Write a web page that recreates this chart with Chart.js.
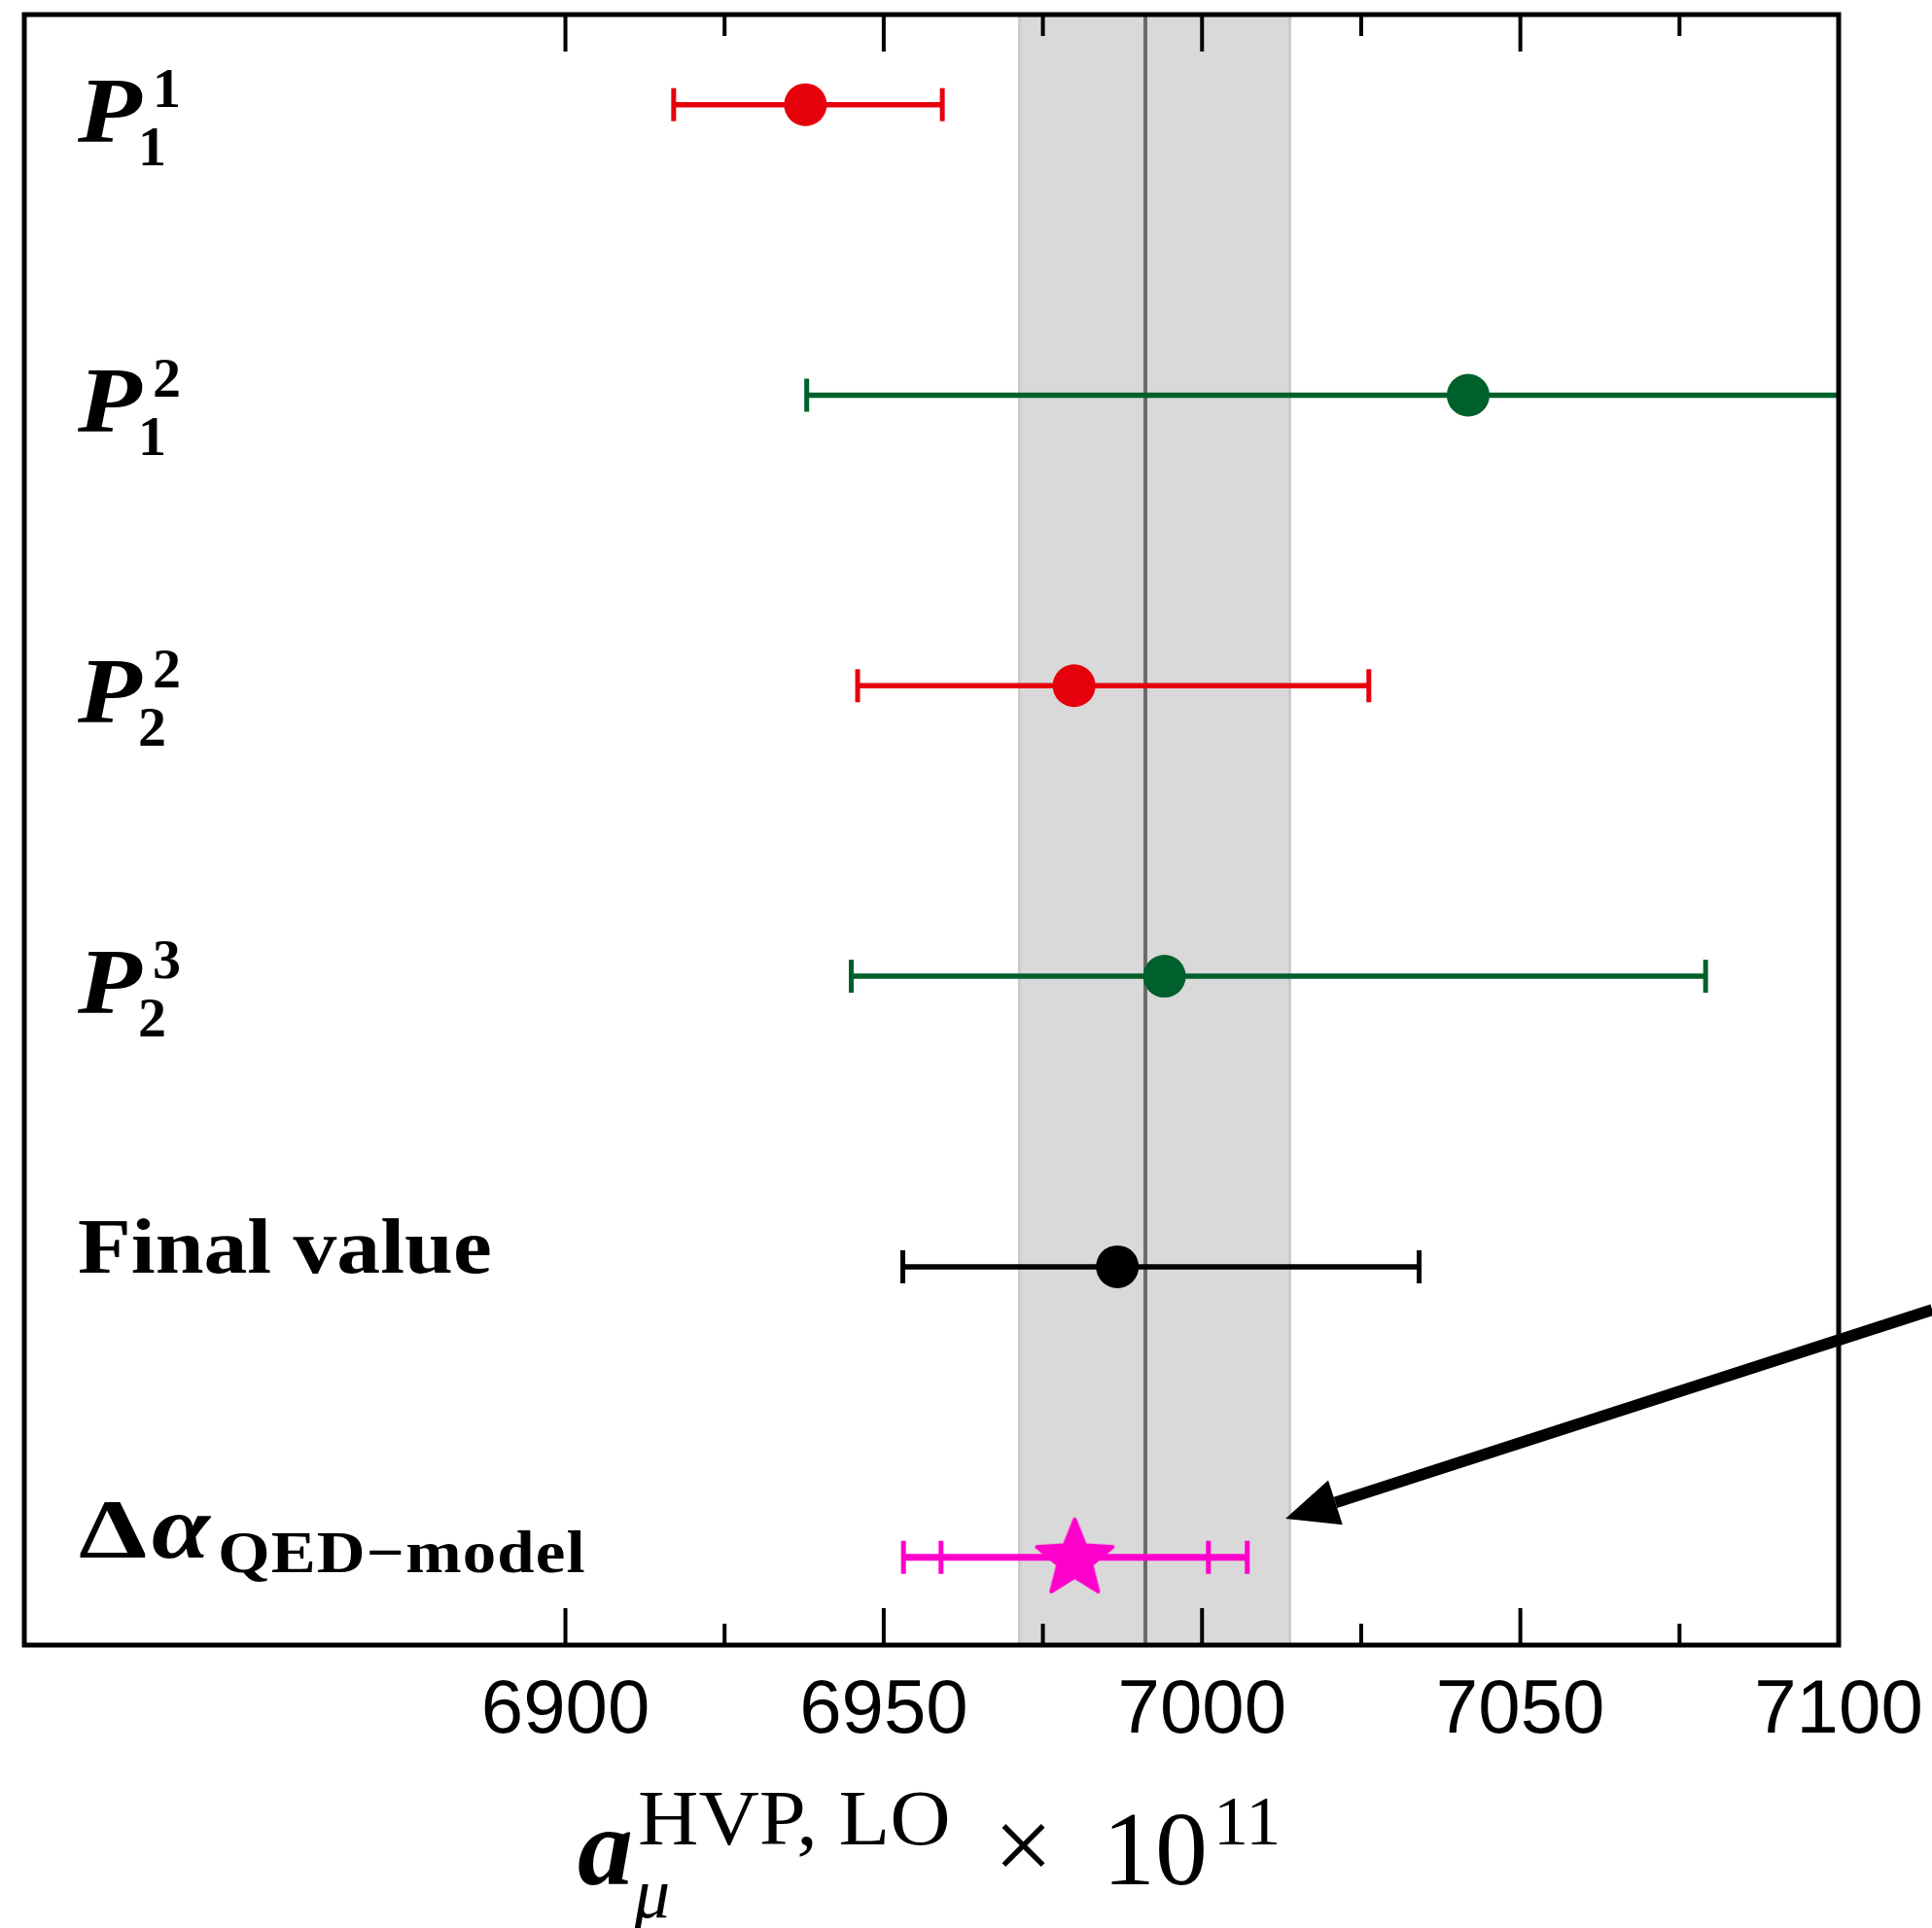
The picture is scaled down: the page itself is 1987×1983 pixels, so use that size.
<!DOCTYPE html>
<html><head><meta charset="utf-8"><title>HVP LO</title>
<script src="https://cdn.jsdelivr.net/npm/chart.js"></script>
<style>html,body{margin:0;padding:0;background:#fff;} #wrap{width:1987px;height:1983px;}</style>
</head><body><div id="wrap"><canvas id="c" width="1987" height="1983"></canvas></div>
<script>
// rows from top to bottom
var rowY     = [6, 5, 4, 3, 2, 1];
var labelBase = ['P', 'P', 'P', 'P', 'Final value', 'Δα'];
var labelSup  = ['1', '2', '2', '3', '', ''];
var labelSub  = ['1', '1', '2', '2', '', 'QED−model'];
var central  = [6937.7, 7041.8, 6979.9, 6994.1, 6986.7, 6980.0];
var errLow   = [6917.0, 6937.9, 6945.9, 6944.9, 6953.0, 6953.1];
var errHigh  = [6959.2, 7146.0, 7026.2, 7079.1, 7034.1, 7007.1];
var innerLow  = [null, null, null, null, null, 6959.0];
var innerHigh = [null, null, null, null, null, 7001.0];
var rowColor = ['#e6000b', '#00602b', '#e6000b', '#00602b', '#000000', '#ff00cc'];
var band = [6971.1, 7014.0];
var bandCenter = 6991.1;
var arrowFrom = [7114.7, 1.852];
var arrowTo   = [7013.1, 1.133];
var xMin = 6815, xMax = 7100, yMin = 0.698, yMax = 6.31;
var firstTick = 6900;

// filled star marker for the last row
var star = document.createElement('canvas');
star.width = 96; star.height = 96;
(function() {
    var g = star.getContext('2d');
    g.fillStyle = '#ff00cc';
    g.beginPath();
    for (var i = 0; i < 10; i++) {
        var r = (i % 2 === 0) ? 41 : 18;
        var a = -Math.PI / 2 + i * Math.PI / 5;
        g.lineTo(48 + r * Math.cos(a), 50 + r * Math.sin(a));
    }
    g.closePath();
    g.lineJoin = 'round';
    g.strokeStyle = '#ff00cc';
    g.lineWidth = 4;
    g.fill(); g.stroke();
})();

function txt(ctx, s, x, y, font, sx, ls) {
    ctx.save();
    ctx.font = font;
    ctx.letterSpacing = (ls || 0) + 'px';
    ctx.translate(x, y);
    ctx.scale(sx || 1, 1);
    ctx.fillText(s, 0, 0);
    ctx.restore();
}

var drawPlugin = {
    id: 'forest',
    beforeDatasetsDraw: function(chart) {
        var ctx = chart.ctx, a = chart.chartArea, xs = chart.scales.x, ys = chart.scales.y;
        ctx.save();
        ctx.beginPath(); ctx.rect(a.left, a.top, a.right - a.left, a.bottom - a.top); ctx.clip();
        var b0 = xs.getPixelForValue(band[0]), b1 = xs.getPixelForValue(band[1]);
        ctx.fillStyle = '#d9d9d9';
        ctx.fillRect(b0, a.top, b1 - b0, a.bottom - a.top);
        ctx.strokeStyle = '#cbcbcb'; ctx.lineWidth = 3;
        ctx.beginPath(); ctx.moveTo(b0 + 1.5, a.top); ctx.lineTo(b0 + 1.5, a.bottom);
        ctx.moveTo(b1 - 1.5, a.top); ctx.lineTo(b1 - 1.5, a.bottom); ctx.stroke();
        var cx = xs.getPixelForValue(bandCenter);
        ctx.strokeStyle = '#6a6a6a'; ctx.lineWidth = 4;
        ctx.beginPath(); ctx.moveTo(cx, a.top); ctx.lineTo(cx, a.bottom); ctx.stroke();

        rowY.forEach(function(y, i) {
            var py = ys.getPixelForValue(y);
            var l = xs.getPixelForValue(errLow[i]), h = xs.getPixelForValue(errHigh[i]);
            ctx.strokeStyle = rowColor[i]; ctx.lineWidth = (i === 5) ? 7 : 5.5;
            ctx.beginPath(); ctx.moveTo(l, py); ctx.lineTo(h, py); ctx.stroke();
            var caps = [l, h];
            if (innerLow[i] !== null) caps.push(xs.getPixelForValue(innerLow[i]), xs.getPixelForValue(innerHigh[i]));
            ctx.lineWidth = 5;
            caps.forEach(function(c) {
                ctx.beginPath(); ctx.moveTo(c, py - 17); ctx.lineTo(c, py + 17); ctx.stroke();
            });
        });
        ctx.restore();
    },
    afterDatasetsDraw: function(chart) {
        var ctx = chart.ctx, a = chart.chartArea, xs = chart.scales.x, ys = chart.scales.y;
        ctx.save();
        // ticks inside, top and bottom
        ctx.strokeStyle = '#000'; ctx.lineWidth = 4;
        xs.ticks.forEach(function(t) {
            if (t.value % 25 !== 0 || t.value < firstTick) return;
            var px = xs.getPixelForValue(t.value);
            var len = (t.value % 50 === 0) ? 38 : 22;
            ctx.beginPath();
            ctx.moveTo(px, a.top); ctx.lineTo(px, a.top + len);
            ctx.moveTo(px, a.bottom); ctx.lineTo(px, a.bottom - len);
            ctx.stroke();
        });
        // frame
        ctx.lineWidth = 5;
        ctx.strokeRect(a.left, a.top, a.right - a.left, a.bottom - a.top);

        // row labels
        ctx.fillStyle = '#000'; ctx.textBaseline = 'alphabetic'; ctx.textAlign = 'left';
        var lx = a.left + 55;
        rowY.forEach(function(y, i) {
            var py = ys.getPixelForValue(y);
            if (labelBase[i] === 'P') {
                txt(ctx, 'P', lx, py + 38, 'italic bold 96px "Liberation Serif"', 1.12);
                txt(ctx, labelSup[i], lx + 77, py + 2, 'bold 58px "Liberation Serif"');
                txt(ctx, labelSub[i], lx + 62, py + 62, 'bold 58px "Liberation Serif"');
            } else if (labelSub[i] === '') {
                txt(ctx, labelBase[i], lx, py + 6, 'bold 80px "Liberation Serif"', 1.12);
            } else {
                txt(ctx, labelBase[i].charAt(0), lx + 1, py, 'bold 86px "Liberation Serif"', 1.3);
                txt(ctx, labelBase[i].charAt(1), lx + 76, py, 'italic bold 94px "Liberation Serif"', 1.15);
                txt(ctx, labelSub[i], lx + 144, py + 15, 'bold 61px "Liberation Serif"', 1.13, 1);
            }
        });

        // axis title
        var tx = 594, tb = 1938;
        txt(ctx, 'a', tx, tb, 'italic bold 114px "Liberation Serif"');
        txt(ctx, 'HVP, LO', tx + 62, tb - 41, '80px "Liberation Serif"', 1.08);
        txt(ctx, 'μ', tx + 58, tb + 34, 'italic 74px "Liberation Serif"');
        txt(ctx, '×', tx + 428, tb - 4, '108px "Liberation Serif"');
        txt(ctx, '10', tx + 540, tb, '108px "Liberation Serif"');
        txt(ctx, '11', tx + 654, tb - 41, '72px "Liberation Serif"');

        // arrow
        var x0 = xs.getPixelForValue(arrowFrom[0]), y0 = ys.getPixelForValue(arrowFrom[1]);
        var x1 = xs.getPixelForValue(arrowTo[0]), y1 = ys.getPixelForValue(arrowTo[1]);
        var ang = Math.atan2(y1 - y0, x1 - x0), hl = 54, hw = 24;
        var bx = x1 - hl * Math.cos(ang), by = y1 - hl * Math.sin(ang);
        ctx.strokeStyle = '#000'; ctx.lineWidth = 12;
        ctx.beginPath(); ctx.moveTo(x0, y0); ctx.lineTo(bx, by); ctx.stroke();
        ctx.fillStyle = '#000';
        ctx.beginPath();
        ctx.moveTo(x1, y1);
        ctx.lineTo(bx + hw * Math.sin(ang), by - hw * Math.cos(ang));
        ctx.lineTo(bx - hw * Math.sin(ang), by + hw * Math.cos(ang));
        ctx.closePath(); ctx.fill();
        ctx.restore();
    }
};

var pts = central.map(function(v, i) { return { x: v, y: rowY[i] }; });

new Chart(document.getElementById('c'), {
    type: 'scatter',
    data: { datasets: [{
        data: pts,
        pointStyle: rowColor.map(function(c, i) { return i === 5 ? star : 'circle'; }),
        pointRadius: 22,
        pointHoverRadius: 22,
        pointBackgroundColor: rowColor,
        pointBorderColor: rowColor,
        pointBorderWidth: 0
    }] },
    options: {
        responsive: false,
        animation: false,
        devicePixelRatio: 1,
        layout: { autoPadding: false, padding: { left: 25, right: 96, top: 15, bottom: 0 } },
        plugins: { legend: { display: false }, tooltip: { enabled: false } },
        scales: {
            x: {
                type: 'linear', min: xMin, max: xMax,
                grid: { display: false, drawTicks: false },
                border: { display: false },
                afterFit: function(s) {
                    s.height = 291;
                    s.paddingLeft = 0; s.paddingRight = 0;
                },
                ticks: {
                    stepSize: 25, autoSkip: false, maxRotation: 0, padding: 22,
                    color: '#000', font: { family: 'Liberation Sans', size: 78 },
                    callback: function(v) { return (v % 50 === 0 && v >= firstTick) ? String(v) : ''; }
                }
            },
            y: { type: 'linear', min: yMin, max: yMax, display: false }
        }
    },
    plugins: [drawPlugin]
});
</script>
</body></html>
